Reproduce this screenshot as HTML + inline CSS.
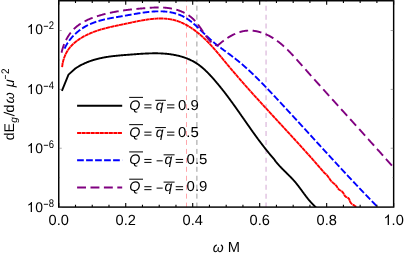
<!DOCTYPE html>
<html><head><meta charset="utf-8"><title>plot</title>
<style>html,body{margin:0;padding:0;background:#fff;}svg{display:block;will-change:transform;}text{font-family:"Liberation Sans",sans-serif;fill:#000;text-rendering:geometricPrecision;}.i{font-style:italic;}</style></head><body>
<svg width="405" height="257" viewBox="0 0 405 257">
<rect x="0" y="0" width="405" height="257" fill="#fff"/>
<defs><clipPath id="c"><rect x="58.75" y="0.00" width="334.90" height="207.10"/></clipPath></defs>
<path d="M186.50 207.10 V0" stroke="#ff8088" stroke-width="0.70" stroke-dasharray="5.0 3.95" stroke-dashoffset="0.5" fill="none"/>
<path d="M196.90 207.10 V0" stroke="#6e6e6e" stroke-width="0.70" stroke-dasharray="5.0 3.95" stroke-dashoffset="0.5" fill="none"/>
<path d="M266.05 207.10 V0" stroke="#d9b3d9" stroke-width="1.15" stroke-dasharray="5.0 3.95" stroke-dashoffset="0.5" fill="none"/>
<g clip-path="url(#c)" fill="none" stroke-linejoin="round">
<path d="M61.90 90.90 L68.50 74.60 L75.60 68.30 L75.93 68.10 L76.38 67.81 L76.82 67.53 L77.27 67.25 L77.72 66.98 L78.16 66.71 L78.61 66.44 L79.06 66.18 L79.51 65.93 L79.96 65.68 L80.41 65.43 L80.87 65.18 L81.32 64.94 L81.77 64.71 L82.23 64.48 L82.68 64.25 L83.14 64.03 L83.60 63.81 L84.06 63.59 L84.51 63.38 L84.97 63.17 L85.43 62.97 L85.90 62.77 L86.36 62.57 L86.82 62.38 L87.28 62.19 L87.75 62.00 L88.21 61.82 L88.68 61.64 L89.14 61.46 L89.61 61.29 L90.08 61.12 L90.55 60.96 L91.02 60.79 L91.49 60.63 L91.96 60.48 L92.43 60.32 L92.90 60.17 L93.37 60.03 L93.85 59.88 L94.32 59.74 L94.79 59.60 L95.27 59.47 L95.74 59.34 L96.22 59.21 L96.70 59.08 L97.18 58.96 L97.65 58.84 L98.13 58.72 L98.61 58.60 L99.09 58.49 L99.57 58.38 L100.05 58.27 L100.54 58.16 L101.02 58.06 L101.50 57.95 L101.98 57.86 L102.47 57.76 L102.95 57.66 L103.44 57.57 L103.92 57.48 L104.41 57.39 L104.90 57.30 L105.38 57.22 L105.87 57.14 L106.36 57.06 L106.85 56.98 L107.34 56.90 L107.82 56.83 L108.31 56.75 L108.81 56.68 L109.30 56.61 L109.79 56.54 L110.28 56.47 L110.77 56.41 L111.26 56.35 L111.76 56.28 L112.25 56.22 L112.75 56.16 L113.24 56.10 L113.73 56.05 L114.23 55.99 L114.73 55.94 L115.22 55.88 L115.72 55.83 L116.21 55.78 L116.71 55.73 L117.21 55.68 L117.71 55.63 L118.21 55.58 L118.70 55.54 L119.20 55.49 L119.70 55.44 L120.20 55.40 L120.70 55.36 L121.20 55.31 L121.70 55.27 L122.20 55.23 L122.70 55.19 L123.21 55.15 L123.71 55.11 L124.21 55.07 L124.71 55.03 L125.21 54.99 L125.72 54.95 L126.22 54.91 L126.72 54.87 L127.23 54.83 L127.73 54.79 L128.23 54.75 L128.74 54.72 L129.24 54.68 L129.75 54.64 L130.25 54.60 L130.76 54.56 L131.26 54.52 L131.77 54.48 L132.27 54.44 L132.78 54.41 L133.29 54.37 L133.79 54.33 L134.30 54.29 L134.80 54.25 L135.31 54.21 L135.82 54.18 L136.32 54.14 L136.83 54.10 L137.34 54.06 L137.84 54.03 L138.35 53.99 L138.86 53.96 L139.37 53.92 L139.87 53.89 L140.38 53.85 L140.89 53.82 L141.39 53.79 L141.90 53.76 L142.41 53.73 L142.92 53.70 L143.42 53.67 L143.93 53.64 L144.44 53.61 L144.95 53.58 L145.45 53.56 L145.96 53.53 L146.47 53.51 L146.97 53.49 L147.48 53.47 L147.99 53.45 L148.50 53.43 L149.00 53.41 L149.51 53.39 L150.02 53.38 L150.52 53.36 L151.03 53.35 L151.53 53.34 L152.04 53.33 L152.55 53.32 L153.05 53.31 L153.56 53.31 L154.06 53.30 L154.57 53.30 L155.07 53.30 L155.58 53.30 L156.08 53.30 L156.59 53.31 L157.09 53.32 L157.60 53.32 L158.10 53.33 L158.60 53.35 L159.11 53.36 L159.61 53.38 L160.11 53.39 L160.61 53.41 L161.12 53.43 L161.62 53.46 L162.12 53.48 L162.62 53.51 L163.12 53.54 L163.62 53.58 L164.12 53.61 L164.62 53.65 L165.12 53.69 L165.62 53.73 L166.12 53.78 L166.62 53.82 L167.12 53.87 L167.61 53.93 L168.11 53.98 L168.61 54.04 L169.10 54.10 L169.60 54.16 L170.10 54.23 L170.59 54.29 L171.09 54.37 L171.58 54.44 L172.07 54.52 L172.57 54.60 L173.06 54.68 L173.55 54.77 L174.04 54.85 L174.53 54.95 L175.03 55.04 L175.52 55.14 L176.01 55.24 L176.49 55.34 L176.98 55.45 L177.47 55.56 L177.96 55.68 L178.44 55.79 L178.93 55.91 L179.41 56.04 L179.90 56.17 L180.38 56.30 L180.86 56.43 L181.34 56.57 L181.82 56.71 L182.30 56.85 L182.78 57.00 L183.25 57.15 L183.73 57.31 L184.20 57.47 L184.67 57.63 L185.14 57.79 L185.61 57.96 L186.08 58.14 L186.54 58.31 L187.00 58.49 L187.47 58.68 L187.93 58.86 L188.39 59.06 L188.84 59.25 L189.30 59.45 L189.75 59.65 L190.20 59.86 L190.65 60.07 L191.10 60.28 L191.54 60.50 L191.98 60.73 L192.42 60.95 L192.86 61.18 L193.30 61.42 L193.73 61.66 L194.16 61.90 L194.59 62.15 L195.02 62.40 L195.44 62.65 L195.86 62.91 L196.28 63.17 L196.69 63.44 L197.11 63.71 L197.52 63.99 L197.92 64.27 L198.33 64.55 L198.73 64.84 L199.13 65.13 L199.53 65.43 L199.92 65.73 L200.32 66.03 L200.71 66.34 L201.09 66.65 L201.48 66.96 L201.86 67.27 L202.24 67.59 L202.62 67.92 L203.00 68.24 L203.38 68.57 L203.75 68.90 L204.12 69.23 L204.49 69.57 L204.86 69.91 L205.22 70.25 L205.58 70.60 L205.95 70.94 L206.31 71.29 L206.66 71.64 L207.02 71.99 L207.38 72.35 L207.73 72.71 L208.08 73.07 L208.43 73.43 L208.78 73.79 L209.13 74.15 L209.48 74.52 L209.82 74.88 L210.16 75.25 L210.51 75.62 L210.85 75.99 L211.19 76.36 L211.53 76.74 L211.87 77.11 L212.20 77.48 L212.54 77.86 L212.88 78.23 L213.21 78.61 L213.54 78.99 L213.88 79.37 L214.21 79.74 L214.54 80.12 L214.87 80.50 L215.20 80.89 L215.53 81.27 L215.85 81.65 L216.18 82.03 L216.51 82.41 L216.83 82.80 L217.16 83.18 L217.48 83.57 L217.80 83.95 L218.12 84.34 L218.44 84.73 L218.76 85.12 L219.08 85.50 L219.40 85.89 L219.72 86.28 L220.04 86.67 L220.35 87.06 L220.67 87.45 L220.98 87.85 L221.30 88.24 L221.61 88.63 L221.93 89.02 L222.24 89.42 L222.55 89.81 L222.86 90.21 L223.17 90.60 L223.48 91.00 L223.79 91.39 L224.10 91.79 L224.41 92.19 L224.71 92.58 L225.02 92.98 L225.33 93.38 L225.63 93.78 L225.94 94.18 L226.24 94.58 L226.54 94.98 L226.85 95.38 L227.15 95.78 L227.45 96.18 L227.75 96.58 L228.06 96.99 L228.36 97.39 L228.66 97.79 L228.96 98.20 L229.26 98.60 L229.55 99.00 L229.85 99.41 L230.15 99.81 L230.45 100.22 L230.75 100.62 L231.04 101.03 L231.34 101.43 L231.63 101.84 L231.93 102.25 L232.23 102.65 L232.52 103.06 L232.81 103.47 L233.11 103.87 L233.40 104.28 L233.70 104.69 L233.99 105.10 L234.28 105.51 L234.57 105.92 L234.87 106.33 L235.16 106.73 L235.45 107.14 L235.74 107.55 L236.03 107.96 L236.32 108.37 L236.61 108.78 L236.90 109.19 L237.19 109.60 L237.48 110.01 L237.77 110.43 L238.06 110.84 L238.35 111.25 L238.64 111.66 L238.93 112.07 L239.22 112.48 L239.51 112.89 L239.80 113.30 L240.08 113.72 L240.37 114.13 L240.66 114.54 L240.95 114.95 L241.24 115.36 L241.52 115.78 L241.81 116.19 L242.10 116.60 L242.39 117.01 L242.68 117.42 L242.96 117.84 L243.25 118.25 L243.54 118.66 L243.83 119.07 L244.11 119.49 L244.40 119.90 L244.69 120.31 L244.98 120.72 L245.26 121.14 L245.55 121.55 L245.84 121.96 L246.13 122.37 L246.41 122.78 L246.70 123.20 L246.99 123.61 L247.28 124.02 L247.56 124.43 L247.85 124.84 L248.14 125.25 L248.43 125.66 L248.72 126.08 L249.01 126.49 L249.29 126.90 L249.58 127.31 L249.87 127.72 L250.16 128.13 L250.45 128.54 L250.74 128.95 L251.03 129.36 L251.32 129.77 L251.61 130.18 L251.90 130.59 L252.19 131.00 L252.48 131.41 L252.77 131.82 L253.07 132.22 L253.36 132.63 L253.65 133.04 L253.94 133.45 L254.24 133.86 L254.53 134.26 L254.82 134.67 L255.12 135.08 L255.41 135.48 L255.70 135.89 L256.00 136.30 L256.29 136.70 L256.59 137.11 L256.88 137.51 L257.18 137.92 L257.48 138.32 L257.77 138.73 L258.07 139.13 L258.37 139.53 L258.67 139.94 L258.97 140.34 L259.27 140.74 L259.57 141.14 L259.87 141.54 L260.17 141.94 L260.47 142.35 L260.77 142.75 L261.07 143.15 L261.37 143.54 L261.68 143.94 L261.98 144.34 L262.28 144.74 L262.59 145.14 L262.89 145.53 L263.20 145.93 L263.51 146.33 L263.81 146.72 L264.12 147.12 L264.43 147.51 L264.74 147.91 L265.05 148.30 L265.36 148.69 L265.67 149.09 L265.98 149.48 L266.29 149.87 L266.60 150.26 L266.92 150.65 L267.23 151.04 L267.55 151.43 L267.86 151.82 L268.18 152.21 L268.50 152.60 L268.81 152.98 L269.13 153.37 L269.45 153.76 L269.77 154.14 L270.09 154.53 L270.41 154.91 L270.74 155.29 L271.06 155.68 L271.38 156.06 L271.71 156.44 L272.03 156.82 L272.36 157.20 L272.69 157.58 L273.01 157.96 L273.34 158.34 L273.67 158.72 L274.00 159.09 L274.33 159.47 L274.67 159.84 L274.85 160.45 L275.17 160.84 L275.50 161.23 L275.82 161.61 L276.14 162.00 L276.47 162.38 L276.80 162.77 L277.12 163.15 L277.45 163.53 L277.79 163.91 L278.12 164.29 L278.45 164.67 L278.79 165.04 L279.13 165.42 L279.46 165.79 L279.81 166.16 L280.15 166.53 L280.49 166.90 L280.84 167.27 L281.18 167.64 L281.53 168.00 L281.88 168.36 L282.23 168.72 L282.59 169.08 L282.94 169.44 L283.30 169.80 L283.65 170.16 L284.01 170.52 L284.37 170.87 L284.73 171.23 L285.08 171.58 L285.44 171.94 L285.80 172.29 L286.16 172.64 L286.52 173.00 L286.88 173.35 L287.24 173.71 L287.60 174.06 L287.96 174.41 L288.32 174.77 L288.67 175.13 L289.03 175.48 L289.39 175.84 L289.74 176.19 L290.10 176.55 L290.45 176.91 L290.80 177.27 L291.15 177.63 L291.50 178.00 L291.85 178.36 L292.19 178.73 L292.54 179.09 L292.88 179.46 L293.22 179.83 L293.55 180.21 L293.89 180.58 L294.22 180.96 L294.55 181.33 L294.88 181.72 L295.21 182.10 L295.53 182.48 L295.85 182.87 L296.17 183.26 L296.49 183.65 L296.80 184.04 L297.12 184.43 L297.43 184.83 L297.74 185.23 L298.05 185.62 L298.35 186.02 L298.66 186.42 L298.96 186.82 L299.27 187.23 L299.57 187.63 L299.87 188.03 L300.17 188.44 L300.47 188.84 L300.77 189.25 L301.07 189.65 L301.37 190.06 L301.67 190.47 L301.97 190.87 L302.26 191.28 L302.56 191.69 L302.86 192.09 L303.16 192.50 L303.46 192.90 L303.76 193.31 L304.05 193.72 L304.35 194.12 L304.66 194.53 L304.96 194.93 L305.26 195.33 L305.56 195.73 L305.87 196.14 L306.17 196.54 L306.48 196.93 L306.79 197.33 L307.10 197.73 L307.41 198.12 L307.72 198.52 L308.04 198.91 L308.35 199.30 L308.67 199.69 L308.99 200.08 L309.32 200.46 L309.64 200.84 L309.97 201.22 L310.30 201.60 L310.63 201.98 L310.97 202.35 L311.31 202.73 L311.65 203.10 L311.99 203.46 L312.34 203.83 L312.69 204.19 L313.04 204.55 L313.40 204.90 L313.76 205.25 L314.13 205.60 L314.49 205.95 L314.86 206.29 L315.24 206.63 L315.62 206.97 L316.00 207.30" stroke="#000" stroke-width="1.9"/>
<path d="M62.12 67.12 L62.17 66.60 L62.24 66.09 L62.30 65.58 L62.38 65.07 L62.46 64.56 L62.54 64.05 L62.64 63.55 L62.73 63.04 L62.84 62.54 L62.95 62.05 L63.06 61.55 L63.18 61.06 L63.31 60.57 L63.45 60.08 L63.59 59.59 L63.73 59.11 L63.88 58.63 L64.04 58.15 L64.20 57.68 L64.37 57.21 L64.55 56.74 L64.73 56.27 L64.92 55.81 L65.12 55.35 L65.32 54.90 L65.52 54.44 L65.74 54.00 L65.96 53.55 L66.18 53.11 L66.41 52.67 L66.65 52.24 L66.90 51.81 L67.15 51.38 L67.40 50.96 L67.67 50.54 L67.94 50.12 L68.21 49.71 L68.50 49.31 L68.78 48.90 L69.08 48.51 L69.38 48.11 L69.69 47.72 L70.00 47.34 L70.32 46.96 L70.65 46.58 L70.98 46.21 L71.32 45.84 L71.66 45.48 L72.01 45.12 L72.36 44.77 L72.72 44.41 L73.08 44.07 L73.45 43.72 L73.83 43.39 L74.20 43.05 L74.58 42.72 L74.97 42.40 L75.36 42.07 L75.76 41.75 L76.15 41.44 L76.56 41.13 L76.96 40.82 L77.37 40.52 L77.78 40.22 L78.20 39.93 L78.62 39.64 L79.04 39.35 L79.46 39.07 L79.89 38.79 L80.32 38.51 L80.75 38.24 L81.19 37.97 L81.62 37.71 L82.06 37.45 L82.50 37.19 L82.95 36.94 L83.39 36.69 L83.84 36.44 L84.28 36.20 L84.73 35.96 L85.18 35.72 L85.63 35.49 L86.08 35.26 L86.53 35.04 L86.98 34.82 L87.44 34.60 L87.89 34.38 L88.34 34.17 L88.80 33.96 L89.25 33.76 L89.71 33.56 L90.17 33.36 L90.62 33.16 L91.08 32.97 L91.54 32.78 L92.00 32.59 L92.46 32.41 L92.92 32.23 L93.38 32.05 L93.84 31.87 L94.30 31.70 L94.76 31.53 L95.23 31.36 L95.69 31.20 L96.15 31.03 L96.62 30.87 L97.08 30.72 L97.55 30.56 L98.02 30.41 L98.48 30.25 L98.95 30.11 L99.42 29.96 L99.89 29.81 L100.36 29.67 L100.83 29.53 L101.30 29.39 L101.77 29.25 L102.24 29.12 L102.71 28.98 L103.19 28.85 L103.66 28.72 L104.13 28.59 L104.61 28.47 L105.08 28.34 L105.56 28.22 L106.04 28.09 L106.51 27.97 L106.99 27.85 L107.47 27.73 L107.95 27.62 L108.43 27.50 L108.91 27.39 L109.39 27.27 L109.87 27.16 L110.35 27.05 L110.83 26.93 L111.32 26.82 L111.80 26.72 L112.28 26.61 L112.77 26.50 L113.25 26.39 L113.74 26.28 L114.22 26.18 L114.71 26.07 L115.20 25.97 L115.69 25.86 L116.17 25.76 L116.66 25.66 L117.15 25.55 L117.64 25.45 L118.13 25.35 L118.62 25.24 L119.12 25.14 L119.61 25.04 L120.10 24.93 L120.59 24.83 L121.09 24.73 L121.58 24.63 L122.08 24.52 L122.57 24.42 L123.07 24.31 L123.57 24.21 L124.06 24.11 L124.56 24.00 L125.06 23.89 L125.56 23.79 L126.06 23.68 L126.56 23.58 L127.06 23.47 L127.56 23.36 L128.06 23.25 L128.56 23.14 L129.06 23.04 L129.57 22.93 L130.07 22.82 L130.57 22.71 L131.08 22.60 L131.58 22.50 L132.09 22.39 L132.59 22.28 L133.10 22.18 L133.60 22.07 L134.11 21.96 L134.61 21.86 L135.12 21.75 L135.62 21.65 L136.13 21.54 L136.64 21.44 L137.14 21.34 L137.65 21.24 L138.16 21.14 L138.67 21.04 L139.17 20.94 L139.68 20.84 L140.19 20.75 L140.70 20.65 L141.20 20.56 L141.71 20.47 L142.22 20.38 L142.73 20.29 L143.23 20.20 L143.74 20.11 L144.25 20.03 L144.76 19.95 L145.26 19.86 L145.77 19.78 L146.28 19.71 L146.78 19.63 L147.29 19.56 L147.80 19.49 L148.30 19.42 L148.81 19.35 L149.31 19.28 L149.82 19.22 L150.33 19.16 L150.83 19.10 L151.34 19.04 L151.84 18.99 L152.34 18.94 L152.85 18.89 L153.35 18.84 L153.85 18.80 L154.36 18.76 L154.86 18.72 L155.36 18.69 L155.86 18.65 L156.36 18.62 L156.86 18.60 L157.36 18.57 L157.86 18.56 L158.36 18.54 L158.86 18.52 L159.36 18.51 L159.85 18.51 L160.35 18.50 L160.85 18.50 L161.34 18.51 L161.84 18.52 L162.33 18.53 L162.82 18.54 L163.32 18.56 L163.81 18.58 L164.30 18.61 L164.79 18.64 L165.28 18.67 L165.77 18.71 L166.26 18.75 L166.74 18.80 L167.23 18.85 L167.71 18.90 L168.20 18.96 L168.68 19.03 L169.17 19.09 L169.65 19.17 L170.13 19.24 L170.61 19.32 L171.09 19.41 L171.57 19.50 L172.04 19.60 L172.52 19.70 L173.00 19.80 L173.47 19.91 L173.94 20.03 L174.42 20.15 L174.89 20.28 L175.36 20.41 L175.83 20.54 L176.29 20.68 L176.76 20.83 L177.22 20.98 L177.69 21.14 L178.15 21.30 L178.61 21.46 L179.07 21.63 L179.53 21.81 L179.99 21.99 L180.45 22.17 L180.90 22.36 L181.36 22.55 L181.81 22.75 L182.26 22.95 L182.71 23.16 L183.16 23.37 L183.61 23.58 L184.06 23.80 L184.50 24.02 L184.95 24.25 L185.39 24.48 L185.83 24.71 L186.27 24.95 L186.71 25.19 L187.14 25.44 L187.58 25.68 L188.01 25.94 L188.44 26.19 L188.87 26.45 L189.30 26.71 L189.73 26.98 L190.16 27.24 L190.58 27.52 L191.00 27.79 L191.43 28.07 L191.85 28.35 L192.26 28.63 L192.68 28.92 L193.10 29.21 L193.51 29.50 L193.92 29.79 L194.33 30.09 L194.74 30.39 L195.15 30.69 L195.55 31.00 L195.95 31.30 L196.36 31.61 L196.76 31.92 L197.15 32.24 L197.55 32.55 L197.94 32.87 L198.34 33.19 L198.73 33.51 L199.12 33.84 L199.50 34.16 L199.89 34.49 L200.27 34.82 L200.65 35.15 L201.03 35.48 L201.41 35.81 L201.79 36.15 L202.16 36.48 L202.54 36.82 L202.91 37.16 L203.28 37.50 L203.64 37.85 L204.01 38.19 L204.38 38.53 L204.74 38.88 L205.10 39.23 L205.46 39.58 L205.82 39.93 L206.18 40.28 L206.53 40.64 L206.89 40.99 L207.24 41.35 L207.59 41.70 L207.94 42.06 L208.29 42.42 L208.64 42.78 L208.98 43.14 L209.33 43.51 L209.67 43.87 L210.02 44.23 L210.36 44.60 L210.70 44.97 L211.04 45.33 L211.38 45.70 L211.71 46.07 L212.05 46.44 L212.39 46.81 L212.72 47.19 L213.05 47.56 L213.39 47.93 L213.72 48.31 L214.05 48.68 L214.38 49.06 L214.71 49.43 L215.04 49.81 L215.37 50.19 L215.70 50.57 L216.02 50.95 L216.35 51.33 L216.67 51.71 L217.00 52.09 L217.32 52.47 L217.65 52.85 L217.97 53.23 L218.29 53.62 L218.62 54.00 L218.94 54.38 L219.26 54.77 L219.58 55.15 L219.90 55.53 L220.22 55.92 L220.54 56.30 L220.86 56.69 L221.18 57.07 L221.50 57.46 L221.82 57.85 L222.14 58.23 L222.46 58.62 L222.78 59.00 L223.10 59.39 L223.42 59.78 L223.74 60.16 L224.06 60.55 L224.37 60.94 L224.69 61.32 L225.01 61.71 L225.33 62.09 L225.65 62.48 L225.97 62.87 L226.29 63.25 L226.61 63.64 L226.93 64.02 L227.25 64.41 L227.57 64.79 L227.89 65.18 L228.22 65.56 L228.54 65.95 L228.86 66.33 L229.18 66.71 L229.50 67.10 L229.83 67.48 L230.15 67.86 L230.47 68.25 L230.79 68.63 L231.12 69.01 L231.44 69.39 L231.77 69.78 L232.09 70.16 L232.41 70.54 L232.74 70.92 L233.06 71.30 L233.39 71.69 L233.71 72.07 L234.04 72.45 L234.37 72.83 L234.69 73.21 L235.02 73.59 L235.34 73.97 L235.67 74.35 L236.00 74.73 L236.32 75.11 L236.65 75.49 L236.98 75.87 L237.31 76.25 L237.63 76.63 L237.96 77.01 L238.29 77.38 L238.62 77.76 L238.95 78.14 L239.28 78.52 L239.61 78.90 L239.93 79.27 L240.26 79.65 L240.59 80.03 L240.92 80.41 L241.25 80.79 L241.58 81.16 L241.91 81.54 L242.24 81.92 L242.57 82.29 L242.91 82.67 L243.24 83.05 L243.57 83.42 L243.90 83.80 L244.23 84.17 L244.56 84.55 L244.89 84.93 L245.23 85.30 L245.56 85.68 L245.89 86.05 L246.22 86.43 L246.56 86.80 L246.89 87.18 L247.22 87.55 L247.55 87.93 L247.89 88.30 L248.22 88.68 L248.56 89.05 L248.89 89.42 L249.22 89.80 L249.56 90.17 L249.89 90.55 L250.23 90.92 L250.56 91.29 L250.89 91.67 L251.23 92.04 L251.56 92.41 L251.90 92.79 L252.23 93.16 L252.57 93.53 L252.90 93.90 L253.24 94.28 L253.58 94.65 L253.91 95.02 L254.25 95.39 L254.58 95.77 L254.92 96.14 L255.26 96.51 L255.59 96.88 L255.93 97.25 L256.26 97.63 L256.60 98.00 L256.94 98.37 L257.28 98.74 L257.61 99.11 L257.95 99.48 L258.29 99.86 L258.62 100.23 L258.96 100.60 L259.30 100.97 L259.64 101.34 L259.97 101.71 L260.31 102.08 L260.65 102.45 L260.99 102.82 L261.33 103.19 L261.66 103.56 L262.00 103.93 L262.34 104.30 L262.68 104.67 L263.02 105.05 L263.36 105.42 L263.69 105.79 L264.03 106.16 L264.37 106.53 L264.71 106.90 L265.05 107.27 L265.39 107.64 L265.73 108.00 L266.07 108.37 L266.40 108.74 L266.74 109.11 L267.08 109.48 L267.42 109.85 L267.76 110.22 L268.10 110.59 L268.44 110.96 L268.78 111.33 L269.12 111.70 L269.46 112.07 L269.80 112.44 L270.14 112.81 L270.48 113.18 L270.82 113.55 L271.16 113.91 L271.50 114.28 L271.84 114.65 L272.18 115.02 L272.52 115.39 L272.86 115.76 L273.20 116.13 L273.54 116.50 L273.88 116.87 L274.22 117.24 L274.56 117.60 L274.90 117.97 L275.24 118.34 L275.58 118.71 L275.92 119.08 L276.26 119.45 L276.60 119.82 L276.94 120.19 L277.28 120.55 L277.62 120.92 L277.96 121.29 L278.30 121.66 L278.64 122.03 L278.98 122.40 L279.32 122.77 L279.66 123.14 L280.00 123.50 L280.34 123.87 L280.68 124.24 L281.02 124.61 L281.36 124.98 L281.70 125.35 L282.04 125.72 L282.38 126.09 L282.72 126.45 L283.06 126.82 L283.40 127.19 L283.74 127.56 L284.08 127.93 L284.42 128.30 L284.76 128.67 L285.10 129.04 L285.44 129.40 L285.78 129.77 L286.12 130.14 L286.46 130.51 L286.80 130.88 L287.14 131.25 L287.48 131.62 L287.82 131.99 L288.16 132.36 L288.50 132.73 L288.84 133.10 L289.18 133.46 L289.52 133.83 L289.86 134.20 L290.20 134.57 L290.54 134.94 L290.88 135.31 L291.22 135.68 L291.56 136.05 L291.89 136.42 L292.23 136.79 L292.57 137.16 L292.91 137.53 L293.25 137.90 L293.59 138.27 L293.93 138.64 L294.27 139.01 L294.60 139.38 L294.94 139.75 L295.28 140.12 L295.62 140.49 L295.96 140.86 L296.30 141.23 L296.63 141.60 L296.97 141.97 L297.31 142.34 L297.65 142.71 L297.99 143.08 L298.32 143.45 L298.66 143.83 L299.00 144.20 L299.34 144.57 L299.67 144.94 L300.01 145.31 L300.35 145.68 L300.68 146.05 L301.02 146.42 L301.36 146.80 L301.69 147.17 L302.03 147.54 L302.37 147.91 L302.70 148.28 L303.04 148.66 L303.38 149.03 L303.71 149.40 L304.05 149.77 L304.38 150.14 L304.72 150.52 L305.05 150.89 L305.39 151.26 L305.73 151.63 L306.06 152.01 L306.40 152.38 L306.73 152.75 L307.06 153.13 L307.40 153.50 L307.73 153.87 L308.07 154.25 L308.40 154.62 L308.74 155.00 L309.07 155.37 L309.40 155.74 L309.74 156.12 L310.07 156.49 L310.40 156.87 L310.74 157.24 L311.07 157.62 L311.40 157.99 L311.74 158.37 L312.07 158.74 L312.40 159.12 L312.73 159.49 L313.06 159.87 L313.40 160.24 L313.73 160.62 L314.06 160.99 L314.39 161.37 L314.72 161.75 L315.05 162.12 L315.38 162.50 L315.71 162.88 L316.04 163.25 L316.37 163.63 L316.70 164.01 L317.03 164.38 L317.36 164.76 L317.69 165.14 L318.02 165.52 L318.35 165.89 L318.68 166.27 L319.01 166.65 L319.34 167.03 L319.67 167.41 L319.99 167.78 L320.32 168.16 L320.65 168.54 L320.98 168.92 L321.31 169.30 L321.63 169.68 L321.96 170.06 L322.29 170.44 L322.61 170.82 L322.94 171.20 L323.27 171.58 L323.59 171.96 L323.92 172.34 L324.24 172.72 L324.57 173.10 L324.89 173.48 L325.41 173.71 L325.81 174.04 L326.18 174.38 L326.54 174.74 L326.88 175.12 L327.20 175.50 L327.52 175.90 L327.83 176.30 L328.12 176.71 L328.41 177.13 L328.70 177.55 L328.99 177.98 L329.27 178.40 L329.56 178.82 L329.85 179.24 L330.14 179.65 L330.44 180.06 L330.75 180.46 L331.07 180.85 L331.40 181.23 L331.75 181.59 L332.11 181.95 L332.48 182.29 L332.85 182.63 L333.23 182.96 L333.62 183.29 L334.01 183.62 L334.39 183.95 L334.77 184.29 L335.15 184.62 L335.52 184.97 L335.87 185.32 L336.21 185.70 L336.53 186.09 L336.83 186.50 L337.10 186.94 L337.36 187.39 L337.61 187.85 L337.88 188.28 L338.17 188.69 L338.51 189.07 L338.87 189.40 L339.27 189.71 L339.68 189.99 L340.11 190.27 L340.54 190.53 L340.97 190.80 L341.39 191.08 L341.80 191.37 L342.18 191.69 L342.53 192.04 L342.86 192.41 L343.16 192.81 L343.44 193.23 L343.69 193.68 L343.93 194.14 L344.16 194.60 L344.40 195.07 L344.65 195.51 L344.93 195.93 L345.25 196.31 L345.62 196.63 L346.04 196.91 L346.50 197.15 L346.97 197.37 L347.44 197.60 L347.89 197.83 L348.30 198.10 L348.67 198.41 L348.96 198.78 L349.19 199.21 L349.38 199.68 L349.54 200.18 L349.70 200.68 L349.86 201.18 L350.05 201.66 L350.29 202.11 L350.56 202.53 L350.87 202.92 L351.21 203.29 L351.58 203.63 L351.97 203.96 L352.38 204.27 L352.80 204.57 L353.23 204.85 L353.67 205.14 L354.10 205.41 L354.54 205.69 L354.96 205.97 L355.38 206.25 L355.77 206.55 L356.15 206.85 L356.50 207.17" stroke="#ff0000" stroke-width="1.9" stroke-dasharray="4.15 0.35"/>
<path d="M64.59 48.72 L64.77 48.28 L64.96 47.85 L65.16 47.42 L65.36 46.98 L65.58 46.55 L65.80 46.12 L66.02 45.69 L66.25 45.27 L66.49 44.84 L66.74 44.41 L66.99 43.99 L67.25 43.57 L67.51 43.15 L67.78 42.73 L68.06 42.31 L68.34 41.90 L68.63 41.49 L68.92 41.08 L69.22 40.67 L69.52 40.26 L69.83 39.86 L70.14 39.46 L70.46 39.06 L70.78 38.66 L71.11 38.27 L71.45 37.88 L71.78 37.49 L72.12 37.11 L72.47 36.73 L72.82 36.35 L73.17 35.97 L73.53 35.60 L73.89 35.23 L74.26 34.87 L74.63 34.51 L75.00 34.15 L75.38 33.80 L75.76 33.45 L76.14 33.10 L76.52 32.76 L76.91 32.42 L77.30 32.09 L77.69 31.76 L78.09 31.44 L78.49 31.12 L78.89 30.80 L79.29 30.49 L79.69 30.19 L80.10 29.89 L80.51 29.59 L80.92 29.30 L81.33 29.01 L81.74 28.73 L82.16 28.45 L82.58 28.18 L83.00 27.91 L83.42 27.65 L83.84 27.39 L84.26 27.14 L84.69 26.89 L85.11 26.65 L85.54 26.41 L85.97 26.17 L86.40 25.94 L86.83 25.71 L87.27 25.49 L87.70 25.27 L88.14 25.05 L88.58 24.84 L89.02 24.63 L89.46 24.42 L89.91 24.22 L90.35 24.03 L90.80 23.83 L91.24 23.64 L91.69 23.46 L92.14 23.27 L92.59 23.09 L93.05 22.92 L93.50 22.75 L93.95 22.58 L94.41 22.41 L94.87 22.25 L95.33 22.08 L95.79 21.93 L96.25 21.77 L96.71 21.62 L97.18 21.47 L97.64 21.33 L98.11 21.18 L98.57 21.04 L99.04 20.90 L99.51 20.77 L99.98 20.63 L100.45 20.50 L100.93 20.37 L101.40 20.25 L101.87 20.12 L102.35 20.00 L102.83 19.88 L103.30 19.76 L103.78 19.64 L104.26 19.53 L104.74 19.42 L105.23 19.31 L105.71 19.20 L106.19 19.09 L106.68 18.99 L107.16 18.88 L107.65 18.78 L108.13 18.68 L108.62 18.58 L109.11 18.48 L109.60 18.38 L110.09 18.29 L110.58 18.19 L111.07 18.10 L111.56 18.01 L112.06 17.91 L112.55 17.82 L113.04 17.73 L113.54 17.64 L114.03 17.56 L114.53 17.47 L115.03 17.38 L115.52 17.29 L116.02 17.21 L116.52 17.12 L117.02 17.04 L117.52 16.95 L118.02 16.87 L118.52 16.78 L119.02 16.70 L119.52 16.62 L120.02 16.53 L120.53 16.45 L121.03 16.36 L121.53 16.28 L122.04 16.19 L122.54 16.11 L123.05 16.03 L123.55 15.94 L124.06 15.85 L124.56 15.77 L125.07 15.68 L125.57 15.59 L126.08 15.51 L126.59 15.42 L127.10 15.33 L127.60 15.24 L128.11 15.15 L128.62 15.06 L129.13 14.97 L129.63 14.88 L130.14 14.79 L130.65 14.70 L131.16 14.61 L131.67 14.52 L132.18 14.43 L132.69 14.34 L133.20 14.25 L133.70 14.17 L134.21 14.08 L134.72 13.99 L135.23 13.90 L135.74 13.81 L136.25 13.73 L136.76 13.64 L137.27 13.56 L137.78 13.47 L138.29 13.39 L138.80 13.31 L139.31 13.23 L139.82 13.14 L140.32 13.07 L140.83 12.99 L141.34 12.91 L141.85 12.83 L142.36 12.76 L142.87 12.68 L143.37 12.61 L143.88 12.54 L144.39 12.47 L144.90 12.40 L145.40 12.34 L145.91 12.27 L146.42 12.21 L146.92 12.15 L147.43 12.09 L147.93 12.03 L148.44 11.97 L148.94 11.92 L149.45 11.87 L149.95 11.82 L150.46 11.77 L150.96 11.72 L151.46 11.68 L151.97 11.64 L152.47 11.60 L152.97 11.56 L153.47 11.53 L153.97 11.50 L154.47 11.47 L154.97 11.44 L155.47 11.42 L155.97 11.40 L156.46 11.38 L156.96 11.36 L157.46 11.35 L157.96 11.34 L158.45 11.33 L158.95 11.33 L159.44 11.33 L159.93 11.33 L160.43 11.33 L160.92 11.34 L161.41 11.36 L161.90 11.37 L162.39 11.39 L162.88 11.41 L163.37 11.44 L163.86 11.47 L164.34 11.50 L164.83 11.54 L165.31 11.58 L165.80 11.62 L166.28 11.67 L166.77 11.72 L167.25 11.77 L167.73 11.83 L168.21 11.90 L168.69 11.97 L169.17 12.04 L169.64 12.11 L170.12 12.19 L170.60 12.28 L171.07 12.37 L171.54 12.46 L172.02 12.56 L172.49 12.66 L172.96 12.77 L173.43 12.88 L173.89 13.00 L174.36 13.12 L174.83 13.24 L175.29 13.37 L175.76 13.51 L176.22 13.65 L176.68 13.79 L177.14 13.95 L177.60 14.10 L178.06 14.26 L178.51 14.43 L178.97 14.60 L179.42 14.78 L179.88 14.96 L180.33 15.15 L180.78 15.34 L181.23 15.54 L181.68 15.74 L182.12 15.95 L182.57 16.17 L183.01 16.39 L183.45 16.62 L183.90 16.85 L184.33 17.09 L184.77 17.33 L185.21 17.58 L185.64 17.84 L186.08 18.10 L186.51 18.37 L186.94 18.64 L187.37 18.92 L187.79 19.20 L188.21 19.48 L188.64 19.77 L189.05 20.07 L189.47 20.37 L189.88 20.67 L190.29 20.97 L190.70 21.28 L191.11 21.60 L191.51 21.91 L191.91 22.23 L192.30 22.56 L192.69 22.88 L193.08 23.21 L193.47 23.54 L193.86 23.87 L194.24 24.21 L194.62 24.54 L195.00 24.88 L195.37 25.22 L195.75 25.56 L196.12 25.90 L196.49 26.25 L196.86 26.59 L197.23 26.93 L197.60 27.28 L197.96 27.62 L198.33 27.97 L198.69 28.31 L199.05 28.66 L199.42 29.01 L199.78 29.35 L200.14 29.70 L200.50 30.05 L200.86 30.39 L201.22 30.74 L201.57 31.09 L201.93 31.44 L202.29 31.78 L202.65 32.13 L203.00 32.48 L203.36 32.83 L203.72 33.17 L204.07 33.52 L204.43 33.86 L204.79 34.21 L205.15 34.56 L205.50 34.90 L205.86 35.24 L206.22 35.59 L206.58 35.93 L206.94 36.27 L207.30 36.61 L207.66 36.95 L208.02 37.29 L208.38 37.63 L208.74 37.97 L209.11 38.31 L209.47 38.64 L209.84 38.98 L210.20 39.31 L210.57 39.64 L210.94 39.97 L211.31 40.30 L211.68 40.63 L212.06 40.96 L212.43 41.28 L212.81 41.60 L213.19 41.93 L213.57 42.25 L213.95 42.57 L214.33 42.88 L214.71 43.20 L215.10 43.51 L215.49 43.83 L215.88 44.14 L216.27 44.45 L216.66 44.76 L217.05 45.07 L217.44 45.37 L217.84 45.68 L218.23 45.99 L218.63 46.29 L219.03 46.59 L219.43 46.90 L219.83 47.20 L220.23 47.50 L220.63 47.80 L221.03 48.10 L221.43 48.40 L221.83 48.70 L222.24 49.00 L222.64 49.29 L223.04 49.59 L223.45 49.89 L223.85 50.19 L224.26 50.48 L224.67 50.78 L225.07 51.07 L225.48 51.37 L225.88 51.67 L226.29 51.96 L226.70 52.26 L227.10 52.56 L227.51 52.85 L227.91 53.15 L228.32 53.45 L228.72 53.74 L229.13 54.04 L229.53 54.34 L229.94 54.64 L230.34 54.94 L230.75 55.24 L231.15 55.54 L231.55 55.84 L231.95 56.14 L232.35 56.44 L232.76 56.74 L233.15 57.05 L233.55 57.35 L233.95 57.66 L234.35 57.97 L234.74 58.27 L235.14 58.58 L235.53 58.89 L235.93 59.20 L236.32 59.51 L236.71 59.83 L237.10 60.14 L237.49 60.45 L237.88 60.77 L238.27 61.09 L238.66 61.40 L239.04 61.72 L239.43 62.04 L239.82 62.36 L240.20 62.68 L240.58 63.00 L240.97 63.32 L241.35 63.65 L241.73 63.97 L242.11 64.30 L242.49 64.62 L242.87 64.95 L243.25 65.28 L243.62 65.60 L244.00 65.93 L244.38 66.26 L244.75 66.59 L245.12 66.92 L245.50 67.26 L245.87 67.59 L246.24 67.92 L246.62 68.26 L246.99 68.59 L247.36 68.93 L247.73 69.26 L248.10 69.60 L248.46 69.94 L248.83 70.27 L249.20 70.61 L249.57 70.95 L249.93 71.29 L250.30 71.63 L250.66 71.98 L251.03 72.32 L251.39 72.66 L251.75 73.00 L252.12 73.35 L252.48 73.69 L252.84 74.04 L253.20 74.38 L253.56 74.73 L253.92 75.08 L254.28 75.42 L254.64 75.77 L255.00 76.12 L255.36 76.47 L255.71 76.82 L256.07 77.17 L256.43 77.52 L256.78 77.87 L257.14 78.22 L257.49 78.57 L257.85 78.93 L258.20 79.28 L258.56 79.63 L258.91 79.99 L259.26 80.34 L259.61 80.70 L259.97 81.05 L260.32 81.41 L260.67 81.76 L261.02 82.12 L261.37 82.48 L261.72 82.83 L262.07 83.19 L262.42 83.55 L262.77 83.91 L263.12 84.27 L263.47 84.62 L263.82 84.98 L264.16 85.34 L264.51 85.70 L264.86 86.06 L265.21 86.42 L265.55 86.78 L265.90 87.15 L266.25 87.51 L266.59 87.87 L266.94 88.23 L267.28 88.59 L267.63 88.95 L267.98 89.32 L268.32 89.68 L268.67 90.04 L269.01 90.41 L269.35 90.77 L269.70 91.13 L270.04 91.50 L270.39 91.86 L270.73 92.22 L271.07 92.59 L271.42 92.95 L271.76 93.32 L272.10 93.68 L272.45 94.05 L272.79 94.41 L273.13 94.78 L273.47 95.14 L273.82 95.51 L274.16 95.87 L274.50 96.24 L274.84 96.60 L275.19 96.97 L275.53 97.34 L275.87 97.70 L276.21 98.07 L276.56 98.43 L276.90 98.80 L277.24 99.16 L277.58 99.53 L277.92 99.90 L278.26 100.26 L278.61 100.63 L278.95 100.99 L279.29 101.36 L279.63 101.73 L279.97 102.09 L280.31 102.46 L280.65 102.83 L280.99 103.19 L281.34 103.56 L281.68 103.93 L282.02 104.29 L282.36 104.66 L282.70 105.03 L283.04 105.40 L283.38 105.76 L283.72 106.13 L284.06 106.50 L284.40 106.86 L284.74 107.23 L285.08 107.60 L285.42 107.97 L285.76 108.33 L286.10 108.70 L286.44 109.07 L286.78 109.44 L287.12 109.80 L287.46 110.17 L287.80 110.54 L288.14 110.91 L288.48 111.28 L288.82 111.64 L289.16 112.01 L289.50 112.38 L289.84 112.75 L290.18 113.12 L290.52 113.48 L290.86 113.85 L291.20 114.22 L291.54 114.59 L291.88 114.96 L292.22 115.32 L292.56 115.69 L292.90 116.06 L293.24 116.43 L293.58 116.80 L293.91 117.17 L294.25 117.54 L294.59 117.90 L294.93 118.27 L295.27 118.64 L295.61 119.01 L295.95 119.38 L296.29 119.75 L296.63 120.12 L296.97 120.49 L297.30 120.85 L297.64 121.22 L297.98 121.59 L298.32 121.96 L298.66 122.33 L299.00 122.70 L299.34 123.07 L299.67 123.44 L300.01 123.81 L300.35 124.18 L300.69 124.55 L301.03 124.91 L301.37 125.28 L301.71 125.65 L302.04 126.02 L302.38 126.39 L302.72 126.76 L303.06 127.13 L303.40 127.50 L303.74 127.87 L304.07 128.24 L304.41 128.61 L304.75 128.98 L305.09 129.35 L305.43 129.72 L305.77 130.09 L306.10 130.45 L306.44 130.82 L306.78 131.19 L307.12 131.56 L307.46 131.93 L307.79 132.30 L308.13 132.67 L308.47 133.04 L308.81 133.41 L309.15 133.78 L309.49 134.15 L309.82 134.52 L310.16 134.89 L310.50 135.26 L310.84 135.63 L311.18 136.00 L311.51 136.37 L311.85 136.74 L312.19 137.11 L312.53 137.48 L312.87 137.85 L313.20 138.22 L313.54 138.58 L313.88 138.95 L314.22 139.32 L314.56 139.69 L314.89 140.06 L315.23 140.43 L315.57 140.80 L315.91 141.17 L316.25 141.54 L316.59 141.91 L316.92 142.28 L317.26 142.65 L317.60 143.02 L317.94 143.39 L318.28 143.76 L318.61 144.13 L318.95 144.50 L319.29 144.87 L319.63 145.24 L319.97 145.61 L320.31 145.98 L320.64 146.35 L320.98 146.71 L321.32 147.08 L321.66 147.45 L322.00 147.82 L322.34 148.19 L322.67 148.56 L323.01 148.93 L323.35 149.30 L323.69 149.67 L324.03 150.04 L324.37 150.41 L324.70 150.78 L325.04 151.15 L325.38 151.52 L325.72 151.88 L326.06 152.25 L326.40 152.62 L326.74 152.99 L327.07 153.36 L327.41 153.73 L327.75 154.10 L328.09 154.47 L328.43 154.84 L328.77 155.21 L329.11 155.57 L329.45 155.94 L329.79 156.31 L330.12 156.68 L330.46 157.05 L330.80 157.42 L331.14 157.79 L331.48 158.15 L331.82 158.52 L332.16 158.89 L332.50 159.26 L332.84 159.63 L333.18 160.00 L333.52 160.37 L333.86 160.73 L334.20 161.10 L334.53 161.47 L334.87 161.84 L335.21 162.21 L335.55 162.58 L335.89 162.94 L336.23 163.31 L336.57 163.68 L336.91 164.05 L337.25 164.42 L337.59 164.78 L337.93 165.15 L338.27 165.52 L338.61 165.89 L338.95 166.25 L339.29 166.62 L339.63 166.99 L339.97 167.36 L340.31 167.72 L340.65 168.09 L340.99 168.46 L341.33 168.83 L341.68 169.19 L342.02 169.56 L342.36 169.93 L342.70 170.29 L343.04 170.66 L343.38 171.03 L343.72 171.40 L344.06 171.76 L344.40 172.13 L344.74 172.50 L345.08 172.86 L345.43 173.23 L345.77 173.60 L346.11 173.96 L346.45 174.33 L346.79 174.69 L347.13 175.06 L347.47 175.43 L347.82 175.79 L348.16 176.16 L348.50 176.53 L348.84 176.89 L349.18 177.26 L349.53 177.62 L349.87 177.99 L350.21 178.35 L350.55 178.72 L350.90 179.09 L351.24 179.45 L351.58 179.82 L351.92 180.18 L352.27 180.55 L352.61 180.91 L352.95 181.28 L353.29 181.64 L353.64 182.01 L353.98 182.37 L354.32 182.74 L354.67 183.10 L355.01 183.47 L355.35 183.83 L355.70 184.19 L356.04 184.56 L356.39 184.92 L356.73 185.29 L357.07 185.65 L357.42 186.01 L357.76 186.38 L358.11 186.74 L358.45 187.11 L358.79 187.47 L359.14 187.83 L359.48 188.20 L359.83 188.56 L360.17 188.92 L360.52 189.29 L360.86 189.65 L361.21 190.01 L361.55 190.38 L361.90 190.74 L362.24 191.10 L362.59 191.46 L362.93 191.83 L363.28 192.19 L363.63 192.55 L363.97 192.91 L364.32 193.28 L364.66 193.64 L365.01 194.00 L365.36 194.36 L365.70 194.72 L366.05 195.08 L366.39 195.45 L366.74 195.81 L367.09 196.17 L367.44 196.53 L367.78 196.89 L368.13 197.25 L368.48 197.61 L368.82 197.97 L369.17 198.33 L369.52 198.69 L369.87 199.05 L370.21 199.42 L370.56 199.78 L370.91 200.14 L371.26 200.50 L371.61 200.86 L371.96 201.22 L372.30 201.57 L372.65 201.93 L373.00 202.29 L373.35 202.65 L373.70 203.01 L374.05 203.37 L374.40 203.73 L374.75 204.09 L375.10 204.45 L375.45 204.81 L375.80 205.17 L376.15 205.52 L376.50 205.88 L376.85 206.24 L377.20 206.60 L377.55 206.96" stroke="#0000ff" stroke-width="1.9" stroke-dasharray="6.7 2.3" stroke-dashoffset="8.8"/>
<path d="M61.52 52.65 L61.64 52.17 L61.75 51.68 L61.88 51.19 L62.00 50.71 L62.14 50.22 L62.27 49.74 L62.41 49.26 L62.56 48.77 L62.71 48.29 L62.86 47.81 L63.02 47.33 L63.18 46.85 L63.35 46.38 L63.52 45.90 L63.69 45.43 L63.87 44.95 L64.06 44.48 L64.24 44.01 L64.44 43.54 L64.63 43.08 L64.84 42.61 L65.04 42.15 L65.25 41.69 L65.47 41.24 L65.68 40.78 L65.91 40.33 L66.14 39.88 L66.37 39.43 L66.60 38.98 L66.85 38.54 L67.09 38.10 L67.34 37.67 L67.60 37.23 L67.85 36.80 L68.12 36.37 L68.38 35.95 L68.66 35.53 L68.93 35.11 L69.21 34.70 L69.50 34.29 L69.79 33.88 L70.08 33.48 L70.38 33.08 L70.69 32.69 L70.99 32.30 L71.31 31.91 L71.62 31.53 L71.95 31.15 L72.27 30.78 L72.60 30.41 L72.94 30.04 L73.28 29.68 L73.62 29.33 L73.97 28.98 L74.32 28.63 L74.68 28.29 L75.04 27.96 L75.41 27.63 L75.78 27.30 L76.15 26.98 L76.53 26.66 L76.91 26.35 L77.30 26.04 L77.69 25.74 L78.08 25.44 L78.48 25.15 L78.88 24.86 L79.29 24.57 L79.70 24.29 L80.11 24.01 L80.53 23.74 L80.94 23.47 L81.37 23.21 L81.79 22.95 L82.22 22.69 L82.65 22.44 L83.08 22.19 L83.52 21.94 L83.96 21.70 L84.40 21.46 L84.85 21.23 L85.29 21.00 L85.74 20.77 L86.20 20.55 L86.65 20.33 L87.11 20.11 L87.57 19.90 L88.03 19.69 L88.49 19.48 L88.95 19.28 L89.42 19.08 L89.89 18.88 L90.36 18.68 L90.83 18.49 L91.30 18.30 L91.78 18.12 L92.25 17.94 L92.73 17.76 L93.21 17.58 L93.69 17.40 L94.17 17.23 L94.65 17.06 L95.13 16.90 L95.62 16.73 L96.10 16.57 L96.59 16.41 L97.07 16.26 L97.56 16.10 L98.05 15.95 L98.53 15.80 L99.02 15.65 L99.51 15.50 L99.99 15.36 L100.48 15.22 L100.97 15.08 L101.46 14.94 L101.95 14.80 L102.43 14.67 L102.92 14.54 L103.41 14.41 L103.90 14.28 L104.39 14.15 L104.88 14.03 L105.37 13.90 L105.85 13.78 L106.34 13.66 L106.83 13.55 L107.32 13.43 L107.81 13.32 L108.30 13.20 L108.79 13.09 L109.28 12.98 L109.77 12.88 L110.26 12.77 L110.75 12.66 L111.24 12.56 L111.73 12.46 L112.22 12.36 L112.71 12.26 L113.20 12.16 L113.69 12.07 L114.18 11.98 L114.67 11.88 L115.16 11.79 L115.65 11.70 L116.15 11.61 L116.64 11.53 L117.13 11.44 L117.62 11.36 L118.11 11.27 L118.60 11.19 L119.10 11.11 L119.59 11.03 L120.08 10.95 L120.57 10.88 L121.07 10.80 L121.56 10.73 L122.05 10.65 L122.54 10.58 L123.04 10.51 L123.53 10.44 L124.03 10.37 L124.52 10.30 L125.01 10.24 L125.51 10.17 L126.00 10.10 L126.50 10.04 L126.99 9.98 L127.49 9.92 L127.98 9.85 L128.48 9.79 L128.97 9.73 L129.47 9.68 L129.96 9.62 L130.46 9.56 L130.96 9.51 L131.45 9.45 L131.95 9.40 L132.45 9.34 L132.94 9.29 L133.44 9.24 L133.94 9.19 L134.44 9.13 L134.93 9.08 L135.43 9.03 L135.93 8.99 L136.43 8.94 L136.93 8.89 L137.43 8.84 L137.92 8.79 L138.42 8.75 L138.92 8.70 L139.42 8.66 L139.92 8.61 L140.42 8.57 L140.92 8.52 L141.42 8.48 L141.93 8.44 L142.43 8.39 L142.93 8.35 L143.43 8.31 L143.93 8.27 L144.43 8.23 L144.94 8.18 L145.44 8.14 L145.94 8.10 L146.45 8.06 L146.95 8.02 L147.45 7.98 L147.96 7.94 L148.46 7.91 L148.96 7.87 L149.47 7.83 L149.97 7.80 L150.48 7.76 L150.98 7.73 L151.49 7.70 L151.99 7.67 L152.50 7.64 L153.00 7.62 L153.51 7.59 L154.01 7.57 L154.52 7.55 L155.02 7.53 L155.53 7.51 L156.03 7.50 L156.54 7.48 L157.04 7.47 L157.55 7.47 L158.05 7.46 L158.56 7.46 L159.06 7.46 L159.57 7.46 L160.07 7.46 L160.58 7.47 L161.08 7.49 L161.59 7.50 L162.09 7.52 L162.60 7.54 L163.10 7.56 L163.60 7.59 L164.11 7.62 L164.61 7.66 L165.11 7.70 L165.62 7.74 L166.12 7.79 L166.62 7.84 L167.13 7.90 L167.63 7.96 L168.13 8.02 L168.63 8.09 L169.13 8.16 L169.63 8.23 L170.13 8.31 L170.62 8.40 L171.12 8.48 L171.62 8.58 L172.11 8.67 L172.60 8.78 L173.09 8.88 L173.58 8.99 L174.07 9.11 L174.56 9.22 L175.05 9.35 L175.53 9.48 L176.02 9.61 L176.50 9.75 L176.98 9.89 L177.45 10.03 L177.93 10.18 L178.40 10.34 L178.87 10.50 L179.34 10.67 L179.81 10.84 L180.28 11.01 L180.74 11.19 L181.20 11.38 L181.66 11.57 L182.11 11.76 L182.56 11.96 L183.01 12.17 L183.46 12.38 L183.91 12.59 L184.35 12.81 L184.79 13.04 L185.22 13.27 L185.65 13.51 L186.08 13.75 L186.51 13.99 L186.93 14.25 L187.35 14.50 L187.77 14.77 L188.18 15.03 L188.59 15.31 L188.99 15.59 L189.40 15.87 L189.79 16.16 L190.19 16.46 L190.58 16.76 L190.96 17.07 L191.35 17.38 L191.72 17.70 L192.10 18.03 L192.47 18.36 L192.83 18.69 L193.19 19.04 L193.55 19.38 L193.90 19.74 L194.25 20.09 L194.60 20.46 L194.94 20.83 L195.27 21.20 L195.61 21.58 L195.94 21.96 L196.27 22.34 L196.59 22.73 L196.91 23.12 L197.23 23.52 L197.54 23.92 L197.86 24.32 L198.17 24.73 L198.47 25.14 L198.78 25.55 L199.08 25.96 L199.38 26.37 L199.68 26.79 L199.97 27.21 L200.27 27.63 L200.56 28.05 L200.85 28.48 L201.14 28.90 L201.43 29.32 L201.72 29.75 L202.00 30.17 L202.29 30.60 L202.57 31.02 L202.85 31.45 L203.14 31.87 L203.42 32.30 L203.70 32.72 L203.99 33.14 L204.27 33.56 L204.56 33.98 L204.85 34.40 L205.14 34.81 L205.43 35.23 L205.72 35.64 L206.01 36.04 L206.31 36.45 L206.61 36.85 L206.91 37.25 L207.21 37.64 L207.52 38.03 L207.83 38.42 L208.14 38.80 L208.46 39.18 L208.78 39.55 L209.11 39.92 L209.44 40.29 L209.77 40.64 L210.11 40.99 L210.46 41.34 L210.81 41.68 L211.17 42.01 L211.53 42.33 L211.90 42.64 L212.28 42.95 L212.67 43.25 L213.06 43.54 L213.46 43.81 L213.87 44.08 L214.29 44.34 L214.72 44.58 L215.16 44.82 L215.61 45.04 L216.07 45.25 L216.53 45.45 L217.01 45.63 L217.50 45.81" stroke="#800080" stroke-width="1.9" stroke-dasharray="8.9 4.5"/>
<path d="M217.60 45.61 L217.96 45.29 L218.32 44.97 L218.68 44.65 L219.05 44.33 L219.42 44.01 L219.80 43.69 L220.17 43.37 L220.56 43.06 L220.94 42.74 L221.33 42.43 L221.72 42.11 L222.11 41.80 L222.51 41.50 L222.91 41.19 L223.31 40.88 L223.72 40.58 L224.13 40.28 L224.54 39.98 L224.95 39.69 L225.37 39.39 L225.79 39.10 L226.21 38.81 L226.64 38.53 L227.07 38.25 L227.50 37.97 L227.93 37.69 L228.37 37.42 L228.80 37.15 L229.24 36.89 L229.69 36.62 L230.13 36.37 L230.58 36.11 L231.03 35.86 L231.48 35.62 L231.93 35.38 L232.39 35.14 L232.84 34.91 L233.30 34.68 L233.76 34.46 L234.23 34.24 L234.69 34.03 L235.16 33.82 L235.62 33.62 L236.09 33.42 L236.56 33.23 L237.04 33.04 L237.51 32.86 L237.99 32.69 L238.46 32.52 L238.94 32.36 L239.42 32.20 L239.90 32.05 L240.38 31.91 L240.87 31.77 L241.35 31.64 L241.84 31.51 L242.32 31.40 L242.81 31.29 L243.30 31.19 L243.79 31.09 L244.28 31.00 L244.77 30.92 L245.26 30.85 L245.75 30.78 L246.25 30.73 L246.74 30.68 L247.23 30.63 L247.73 30.60 L248.22 30.58 L248.72 30.56 L249.22 30.55 L249.71 30.55 L250.21 30.55 L250.70 30.57 L251.20 30.59 L251.70 30.62 L252.19 30.66 L252.69 30.70 L253.18 30.75 L253.68 30.81 L254.17 30.87 L254.67 30.95 L255.16 31.02 L255.65 31.11 L256.14 31.20 L256.63 31.30 L257.12 31.40 L257.61 31.51 L258.10 31.63 L258.59 31.75 L259.07 31.88 L259.55 32.01 L260.04 32.15 L260.52 32.29 L261.00 32.44 L261.47 32.59 L261.95 32.75 L262.42 32.92 L262.90 33.09 L263.37 33.26 L263.83 33.44 L264.30 33.62 L264.76 33.81 L265.22 34.00 L265.68 34.20 L266.14 34.40 L266.59 34.61 L267.04 34.81 L267.49 35.03 L267.94 35.24 L268.38 35.46 L268.82 35.69 L269.26 35.91 L269.70 36.14 L270.13 36.38 L270.56 36.62 L270.99 36.86 L271.42 37.10 L271.85 37.35 L272.27 37.60 L272.69 37.86 L273.11 38.12 L273.52 38.38 L273.94 38.64 L274.35 38.91 L274.76 39.18 L275.17 39.46 L275.58 39.73 L275.98 40.01 L276.38 40.30 L276.78 40.58 L277.18 40.87 L277.58 41.16 L277.97 41.46 L278.37 41.76 L278.76 42.06 L279.15 42.36 L279.53 42.66 L279.92 42.97 L280.30 43.28 L280.69 43.59 L281.07 43.91 L281.45 44.23 L281.83 44.55 L282.20 44.87 L282.58 45.19 L282.95 45.52 L283.32 45.85 L283.69 46.18 L284.06 46.51 L284.43 46.85 L284.80 47.18 L285.16 47.52 L285.53 47.86 L285.89 48.21 L286.25 48.55 L286.61 48.90 L286.97 49.24 L287.33 49.59 L287.69 49.95 L288.04 50.30 L288.40 50.65 L288.75 51.01 L289.11 51.36 L289.46 51.72 L289.81 52.08 L290.16 52.44 L290.51 52.81 L290.86 53.17 L291.20 53.54 L291.55 53.90 L291.90 54.27 L292.24 54.64 L292.59 55.01 L292.93 55.38 L293.27 55.75 L293.62 56.12 L293.96 56.49 L294.30 56.86 L294.64 57.24 L294.98 57.61 L295.32 57.99 L295.66 58.37 L296.00 58.74 L296.34 59.12 L296.67 59.50 L297.01 59.88 L297.35 60.25 L297.68 60.63 L298.02 61.01 L298.36 61.39 L298.69 61.77 L299.03 62.15 L299.37 62.53 L299.70 62.91 L300.04 63.29 L300.37 63.67 L300.71 64.05 L301.04 64.43 L301.38 64.81 L301.71 65.19 L302.05 65.57 L302.38 65.95 L302.72 66.33 L303.05 66.71 L303.39 67.08 L303.72 67.46 L304.06 67.84 L304.40 68.22 L304.73 68.60 L305.07 68.98 L305.40 69.35 L305.74 69.73 L306.07 70.11 L306.41 70.49 L306.74 70.87 L307.08 71.24 L307.41 71.62 L307.75 72.00 L308.08 72.37 L308.42 72.75 L308.75 73.13 L309.09 73.50 L309.42 73.88 L309.76 74.26 L310.09 74.63 L310.43 75.01 L310.76 75.39 L311.10 75.76 L311.43 76.14 L311.77 76.51 L312.10 76.89 L312.44 77.26 L312.77 77.64 L313.11 78.01 L313.44 78.39 L313.78 78.76 L314.11 79.14 L314.45 79.51 L314.78 79.89 L315.12 80.26 L315.46 80.64 L315.79 81.01 L316.13 81.39 L316.46 81.76 L316.80 82.13 L317.13 82.51 L317.47 82.88 L317.80 83.26 L318.14 83.63 L318.47 84.00 L318.81 84.38 L319.14 84.75 L319.48 85.12 L319.81 85.50 L320.15 85.87 L320.48 86.24 L320.82 86.62 L321.15 86.99 L321.49 87.36 L321.82 87.74 L322.16 88.11 L322.49 88.48 L322.83 88.85 L323.16 89.23 L323.50 89.60 L323.83 89.97 L324.17 90.34 L324.50 90.72 L324.84 91.09 L325.17 91.46 L325.50 91.83 L325.84 92.20 L326.17 92.58 L326.51 92.95 L326.84 93.32 L327.18 93.69 L327.51 94.06 L327.85 94.43 L328.18 94.81 L328.52 95.18 L328.85 95.55 L329.19 95.92 L329.52 96.29 L329.86 96.66 L330.19 97.03 L330.53 97.40 L330.86 97.78 L331.20 98.15 L331.53 98.52 L331.87 98.89 L332.20 99.26 L332.54 99.63 L332.87 100.00 L333.21 100.37 L333.54 100.74 L333.88 101.11 L334.21 101.48 L334.55 101.85 L334.88 102.22 L335.22 102.60 L335.55 102.97 L335.89 103.34 L336.22 103.71 L336.56 104.08 L336.89 104.45 L337.23 104.82 L337.56 105.19 L337.90 105.56 L338.23 105.93 L338.57 106.30 L338.90 106.67 L339.24 107.04 L339.57 107.41 L339.91 107.78 L340.24 108.15 L340.58 108.52 L340.91 108.89 L341.25 109.26 L341.58 109.63 L341.92 110.00 L342.25 110.37 L342.59 110.74 L342.92 111.11 L343.26 111.48 L343.59 111.85 L343.93 112.22 L344.26 112.59 L344.60 112.96 L344.93 113.33 L345.26 113.70 L345.60 114.07 L345.93 114.44 L346.27 114.81 L346.60 115.18 L346.94 115.55 L347.27 115.92 L347.61 116.29 L347.94 116.66 L348.28 117.03 L348.61 117.40 L348.95 117.77 L349.28 118.14 L349.62 118.51 L349.95 118.88 L350.29 119.25 L350.62 119.62 L350.96 119.99 L351.29 120.36 L351.63 120.73 L351.96 121.10 L352.30 121.47 L352.63 121.84 L352.97 122.21 L353.30 122.58 L353.64 122.95 L353.97 123.32 L354.31 123.69 L354.64 124.06 L354.98 124.43 L355.31 124.80 L355.65 125.17 L355.98 125.54 L356.32 125.91 L356.65 126.28 L356.99 126.65 L357.32 127.03 L357.66 127.40 L357.99 127.77 L358.33 128.14 L358.66 128.51 L359.00 128.88 L359.33 129.25 L359.67 129.62 L360.00 129.99 L360.34 130.36 L360.67 130.73 L361.01 131.10 L361.34 131.48 L361.68 131.85 L362.01 132.22 L362.35 132.59 L362.68 132.96 L363.02 133.33 L363.35 133.70 L363.69 134.07 L364.02 134.45 L364.36 134.82 L364.69 135.19 L365.03 135.56 L365.36 135.93 L365.70 136.30 L366.04 136.68 L366.37 137.05 L366.71 137.42 L367.04 137.79 L367.38 138.16 L367.71 138.54 L368.05 138.91 L368.38 139.28 L368.72 139.65 L369.05 140.03 L369.39 140.40 L369.72 140.77 L370.06 141.14 L370.39 141.52 L370.73 141.89 L371.06 142.26 L371.40 142.64 L371.73 143.01 L372.07 143.38 L372.40 143.76 L372.74 144.13 L373.07 144.50 L373.41 144.88 L373.74 145.25 L374.08 145.62 L374.42 146.00 L374.75 146.37 L375.09 146.75 L375.42 147.12 L375.76 147.49 L376.09 147.87 L376.43 148.24 L376.76 148.62 L377.10 148.99 L377.43 149.37 L377.77 149.74 L378.10 150.12 L378.44 150.49 L378.78 150.87 L379.11 151.24 L379.45 151.62 L379.78 151.99 L380.12 152.37 L380.45 152.75 L380.79 153.12 L381.12 153.50 L381.46 153.87 L381.79 154.25 L382.13 154.63 L382.46 155.00 L382.80 155.38 L383.14 155.76 L383.47 156.13 L383.81 156.51 L384.14 156.89 L384.48 157.26 L384.81 157.64 L385.15 158.02 L385.48 158.40 L385.82 158.77 L386.16 159.15 L386.49 159.53 L386.83 159.91 L387.16 160.28 L387.50 160.66 L387.83 161.04 L388.17 161.42 L388.51 161.80 L388.84 162.18 L389.18 162.56 L389.51 162.94 L389.85 163.32 L390.18 163.69 L390.52 164.07 L390.86 164.45 L391.19 164.83 L391.53 165.21 L391.86 165.59 L392.20 165.97 L392.53 166.35" stroke="#800080" stroke-width="1.9" stroke-dasharray="8.9 4.5" stroke-dashoffset="1.0"/>
</g>
<path d="M77.10 105.70 H122.20" stroke="#000" stroke-width="1.9" fill="none"/>
<path d="M77.10 133.00 H122.20" stroke="#ff0000" stroke-width="1.9" fill="none" stroke-dasharray="4.05 0.48"/>
<path d="M77.10 160.30 H122.20" stroke="#0000ff" stroke-width="1.9" fill="none" stroke-dasharray="6.7 2.3"/>
<path d="M77.10 187.50 H122.20" stroke="#800080" stroke-width="1.9" fill="none" stroke-dasharray="8.9 4.5"/>
<text class="i" transform="translate(129.30 109.60) scale(1.040 1)" font-size="13.80">Q</text>
<path d="M129.20 97.38 H143.00" stroke="#000" stroke-width="1.00" fill="none"/>
<path d="M144.30 104.90 H151.50 M144.30 107.85 H151.50" stroke="#000" stroke-width="1.0" fill="none"/>
<text class="i" x="155.70" y="109.60" font-size="14.00">q</text>
<path d="M155.30 100.30 H165.90" stroke="#000" stroke-width="1.00" fill="none"/>
<path d="M167.00 104.90 H174.40 M167.00 107.85 H174.40" stroke="#000" stroke-width="1.0" fill="none"/>
<text transform="translate(177.90 109.60) scale(1.040 1)" font-size="14.40">0.9</text>
<text class="i" transform="translate(129.30 136.87) scale(1.040 1)" font-size="13.80">Q</text>
<path d="M129.20 124.65 H143.00" stroke="#000" stroke-width="1.00" fill="none"/>
<path d="M144.30 132.17 H151.50 M144.30 135.12 H151.50" stroke="#000" stroke-width="1.0" fill="none"/>
<text class="i" x="155.70" y="136.87" font-size="14.00">q</text>
<path d="M155.30 127.57 H165.90" stroke="#000" stroke-width="1.00" fill="none"/>
<path d="M167.00 132.17 H174.40 M167.00 135.12 H174.40" stroke="#000" stroke-width="1.0" fill="none"/>
<text transform="translate(177.90 136.87) scale(1.040 1)" font-size="14.40">0.5</text>
<text class="i" transform="translate(129.30 164.14) scale(1.040 1)" font-size="13.80">Q</text>
<path d="M129.20 151.92 H143.00" stroke="#000" stroke-width="1.00" fill="none"/>
<path d="M144.30 159.44 H151.50 M144.30 162.39 H151.50" stroke="#000" stroke-width="1.0" fill="none"/>
<path d="M156.60 160.84 H162.70" stroke="#000" stroke-width="1.00" fill="none"/>
<text class="i" x="164.40" y="164.14" font-size="14.00">q</text>
<path d="M163.60 154.84 H174.60" stroke="#000" stroke-width="1.00" fill="none"/>
<path d="M175.70 159.44 H183.10 M175.70 162.39 H183.10" stroke="#000" stroke-width="1.0" fill="none"/>
<text transform="translate(186.60 164.14) scale(1.040 1)" font-size="14.40">0.5</text>
<text class="i" transform="translate(129.30 191.41) scale(1.040 1)" font-size="13.80">Q</text>
<path d="M129.20 179.19 H143.00" stroke="#000" stroke-width="1.00" fill="none"/>
<path d="M144.30 186.71 H151.50 M144.30 189.66 H151.50" stroke="#000" stroke-width="1.0" fill="none"/>
<path d="M156.60 188.11 H162.70" stroke="#000" stroke-width="1.00" fill="none"/>
<text class="i" x="164.40" y="191.41" font-size="14.00">q</text>
<path d="M163.60 182.11 H174.60" stroke="#000" stroke-width="1.00" fill="none"/>
<path d="M175.70 186.71 H183.10 M175.70 189.66 H183.10" stroke="#000" stroke-width="1.0" fill="none"/>
<text transform="translate(186.60 191.41) scale(1.040 1)" font-size="14.40">0.9</text>
<rect x="58.75" y="0.75" width="334.90" height="206.35" fill="none" stroke="#000" stroke-width="1.45"/>
<path d="M58.75 207.10 v-4.00 M58.75 0.75 v4.00" stroke="#000" stroke-width="1.1" fill="none"/>
<path d="M75.50 207.10 v-2.30 M75.50 0.75 v2.30" stroke="#000" stroke-width="1.1" fill="none"/>
<path d="M92.24 207.10 v-2.30 M92.24 0.75 v2.30" stroke="#000" stroke-width="1.1" fill="none"/>
<path d="M108.99 207.10 v-2.30 M108.99 0.75 v2.30" stroke="#000" stroke-width="1.1" fill="none"/>
<path d="M125.73 207.10 v-4.00 M125.73 0.75 v4.00" stroke="#000" stroke-width="1.1" fill="none"/>
<path d="M142.47 207.10 v-2.30 M142.47 0.75 v2.30" stroke="#000" stroke-width="1.1" fill="none"/>
<path d="M159.22 207.10 v-2.30 M159.22 0.75 v2.30" stroke="#000" stroke-width="1.1" fill="none"/>
<path d="M175.97 207.10 v-2.30 M175.97 0.75 v2.30" stroke="#000" stroke-width="1.1" fill="none"/>
<path d="M192.71 207.10 v-4.00 M192.71 0.75 v4.00" stroke="#000" stroke-width="1.1" fill="none"/>
<path d="M209.45 207.10 v-2.30 M209.45 0.75 v2.30" stroke="#000" stroke-width="1.1" fill="none"/>
<path d="M226.20 207.10 v-2.30 M226.20 0.75 v2.30" stroke="#000" stroke-width="1.1" fill="none"/>
<path d="M242.94 207.10 v-2.30 M242.94 0.75 v2.30" stroke="#000" stroke-width="1.1" fill="none"/>
<path d="M259.69 207.10 v-4.00 M259.69 0.75 v4.00" stroke="#000" stroke-width="1.1" fill="none"/>
<path d="M276.44 207.10 v-2.30 M276.44 0.75 v2.30" stroke="#000" stroke-width="1.1" fill="none"/>
<path d="M293.18 207.10 v-2.30 M293.18 0.75 v2.30" stroke="#000" stroke-width="1.1" fill="none"/>
<path d="M309.92 207.10 v-2.30 M309.92 0.75 v2.30" stroke="#000" stroke-width="1.1" fill="none"/>
<path d="M326.67 207.10 v-4.00 M326.67 0.75 v4.00" stroke="#000" stroke-width="1.1" fill="none"/>
<path d="M343.42 207.10 v-2.30 M343.42 0.75 v2.30" stroke="#000" stroke-width="1.1" fill="none"/>
<path d="M360.16 207.10 v-2.30 M360.16 0.75 v2.30" stroke="#000" stroke-width="1.1" fill="none"/>
<path d="M376.90 207.10 v-2.30 M376.90 0.75 v2.30" stroke="#000" stroke-width="1.1" fill="none"/>
<path d="M393.65 207.10 v-4.00 M393.65 0.75 v4.00" stroke="#000" stroke-width="1.1" fill="none"/>
<path d="M58.75 207.10 h3.00 M393.65 207.10 h-3.00" stroke="#555" stroke-width="0.5" fill="none"/>
<path d="M58.75 177.67 h1.20 M393.65 177.67 h-1.20" stroke="#555" stroke-width="0.5" fill="none"/>
<path d="M58.75 148.24 h3.00 M393.65 148.24 h-3.00" stroke="#555" stroke-width="0.5" fill="none"/>
<path d="M58.75 118.81 h1.20 M393.65 118.81 h-1.20" stroke="#555" stroke-width="0.5" fill="none"/>
<path d="M58.75 89.38 h3.00 M393.65 89.38 h-3.00" stroke="#555" stroke-width="0.5" fill="none"/>
<path d="M58.75 59.95 h1.20 M393.65 59.95 h-1.20" stroke="#555" stroke-width="0.5" fill="none"/>
<path d="M58.75 30.52 h3.00 M393.65 30.52 h-3.00" stroke="#555" stroke-width="0.5" fill="none"/>
<path d="M58.75 1.09 h1.20 M393.65 1.09 h-1.20" stroke="#555" stroke-width="0.5" fill="none"/>
<text x="58.75" y="225.1" font-size="14.6" text-anchor="middle">0.0</text>
<text x="125.73" y="225.1" font-size="14.6" text-anchor="middle">0.2</text>
<text x="192.71" y="225.1" font-size="14.6" text-anchor="middle">0.4</text>
<text x="259.69" y="225.1" font-size="14.6" text-anchor="middle">0.6</text>
<text x="326.67" y="225.1" font-size="14.6" text-anchor="middle">0.8</text>
<path transform="translate(383.50 225.00) scale(0.00713 -0.00713)" fill="#000" d="M763 0 L583 0 L583 1147 Q518 1085 412.5 1023 Q307 961 223 930 L223 1104 Q374 1175 487 1276 Q600 1377 647 1472 L763 1472 Z"/>
<text x="391.62" y="225.1" font-size="14.6">.0</text>
<path transform="translate(26.75 212.00) scale(0.00684 -0.00684)" fill="#000" d="M763 0 L583 0 L583 1147 Q518 1085 412.5 1023 Q307 961 223 930 L223 1104 Q374 1175 487 1276 Q600 1377 647 1472 L763 1472 Z"/>
<text x="35.3" y="212.00" font-size="14">0</text>
<path d="M43.8 204.30 H48.1" stroke="#000" stroke-width="0.9" fill="none"/>
<text transform="translate(48.75 207.00) scale(0.86 1)" font-size="11">8</text>
<path transform="translate(26.75 153.00) scale(0.00684 -0.00684)" fill="#000" d="M763 0 L583 0 L583 1147 Q518 1085 412.5 1023 Q307 961 223 930 L223 1104 Q374 1175 487 1276 Q600 1377 647 1472 L763 1472 Z"/>
<text x="35.3" y="153.00" font-size="14">0</text>
<path d="M43.8 145.30 H48.1" stroke="#000" stroke-width="0.9" fill="none"/>
<text transform="translate(48.75 148.00) scale(0.86 1)" font-size="11">6</text>
<path transform="translate(26.75 94.00) scale(0.00684 -0.00684)" fill="#000" d="M763 0 L583 0 L583 1147 Q518 1085 412.5 1023 Q307 961 223 930 L223 1104 Q374 1175 487 1276 Q600 1377 647 1472 L763 1472 Z"/>
<text x="35.3" y="94.00" font-size="14">0</text>
<path d="M43.8 86.30 H48.1" stroke="#000" stroke-width="0.9" fill="none"/>
<text transform="translate(48.75 89.00) scale(0.86 1)" font-size="11">4</text>
<path transform="translate(26.75 34.00) scale(0.00684 -0.00684)" fill="#000" d="M763 0 L583 0 L583 1147 Q518 1085 412.5 1023 Q307 961 223 930 L223 1104 Q374 1175 487 1276 Q600 1377 647 1472 L763 1472 Z"/>
<text x="35.3" y="34.00" font-size="14">0</text>
<path d="M43.8 26.30 H48.1" stroke="#000" stroke-width="0.9" fill="none"/>
<text transform="translate(48.75 29.00) scale(0.86 1)" font-size="11">2</text>
<text class="i" x="212.8" y="252" font-size="14">ω</text>
<text x="227.7" y="252" font-size="14.7">M</text>
<g transform="translate(14.3 140.3) rotate(-90)">
<text x="0" y="0" font-size="14">dE</text>
<text class="i" x="17.6" y="2.8" font-size="10">g</text>
<path d="M24.5 0.2 L28.0 -10.6" stroke="#000" stroke-width="1.1" fill="none"/>
<text transform="translate(27.58 0.00) scale(1.057 1)" font-size="14">d</text>
<text class="i" transform="translate(36.78 0.00) scale(1.030 1)" font-size="14">ω</text>
<text class="i" transform="translate(52.95 0.00) scale(1.035 1)" font-size="14">μ</text>
<text transform="translate(60.85 -5.50) scale(0.748 1)" font-size="11">−</text>
<text transform="translate(66.26 -5.50) scale(0.898 1)" font-size="11">2</text>
</g>
</svg></body></html>
